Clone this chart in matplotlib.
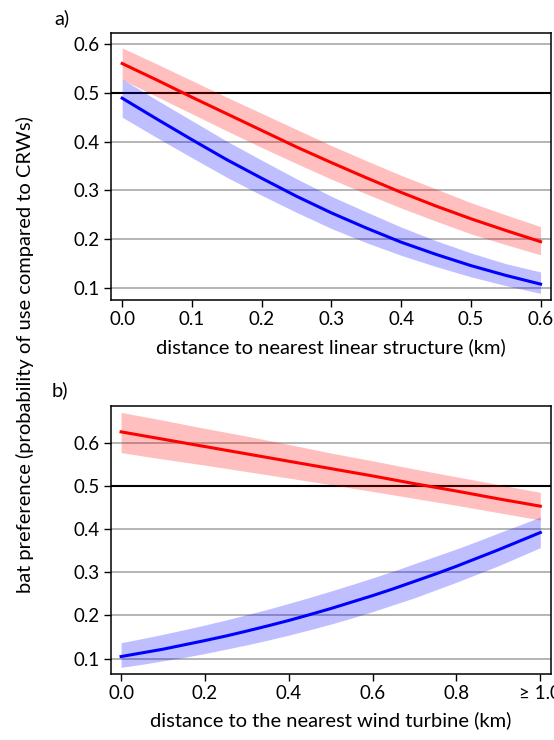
import numpy as np
import matplotlib
matplotlib.use('Agg')
import matplotlib.pyplot as plt

plt.rcParams['font.family'] = ['Lato', 'DejaVu Sans']

# panel a) distance to nearest linear structure (km)
dist_lin = [0.0, 0.05, 0.1, 0.15, 0.2, 0.25, 0.3, 0.35, 0.4, 0.45, 0.5, 0.55, 0.6]
red_a = [0.560, 0.526, 0.491, 0.457, 0.423, 0.389, 0.357, 0.326, 0.296, 0.268, 0.242, 0.218, 0.195]
red_a_lo = [0.527, 0.492, 0.457, 0.422, 0.388, 0.355, 0.323, 0.293, 0.264, 0.237, 0.211, 0.189, 0.168]
red_a_hi = [0.592, 0.559, 0.525, 0.491, 0.458, 0.425, 0.392, 0.361, 0.331, 0.303, 0.275, 0.250, 0.226]
blue_a = [0.489, 0.446, 0.404, 0.363, 0.325, 0.288, 0.254, 0.223, 0.194, 0.169, 0.146, 0.126, 0.108]
blue_a_lo = [0.450, 0.408, 0.367, 0.327, 0.290, 0.255, 0.222, 0.193, 0.167, 0.144, 0.123, 0.105, 0.089]
blue_a_hi = [0.528, 0.485, 0.443, 0.401, 0.362, 0.324, 0.288, 0.256, 0.225, 0.197, 0.172, 0.150, 0.133]

# panel b) distance to the nearest wind turbine (km)
dist_wt = [0.0, 0.05, 0.1, 0.15, 0.2, 0.25, 0.3, 0.35, 0.4, 0.45, 0.5,
	0.55, 0.6, 0.65, 0.7, 0.75, 0.8, 0.85, 0.9, 0.95, 1.0]
red_b = [0.625, 0.6165, 0.608, 0.5995, 0.591, 0.5825, 0.574, 0.5655, 0.557, 0.5485, 0.540,
	0.5315, 0.523, 0.514, 0.505, 0.4965, 0.488, 0.479, 0.470, 0.4615, 0.453]
red_b_lo = [0.577, 0.5695, 0.562, 0.555, 0.548, 0.5405, 0.533, 0.5255, 0.518, 0.5105, 0.503,
	0.495, 0.487, 0.479, 0.471, 0.463, 0.455, 0.4465, 0.438, 0.4295, 0.421]
red_b_hi = [0.670, 0.661, 0.652, 0.6425, 0.633, 0.624, 0.615, 0.6055, 0.596, 0.586, 0.576,
	0.567, 0.558, 0.5485, 0.539, 0.530, 0.521, 0.512, 0.503, 0.494, 0.485]
blue_b = [0.105, 0.1135, 0.122, 0.132, 0.142, 0.1525, 0.164, 0.176, 0.1885, 0.202, 0.216,
	0.231, 0.246, 0.262, 0.279, 0.296, 0.314, 0.333, 0.352, 0.372, 0.392]
blue_b_lo = [0.080, 0.087, 0.095, 0.103, 0.112, 0.122, 0.132, 0.143, 0.1545, 0.167, 0.180,
	0.194, 0.209, 0.225, 0.241, 0.259, 0.277, 0.296, 0.315, 0.336, 0.357]
blue_b_hi = [0.137, 0.1465, 0.1565, 0.167, 0.178, 0.1895, 0.202, 0.2145, 0.228, 0.242, 0.2565,
	0.2715, 0.287, 0.303, 0.320, 0.337, 0.354, 0.372, 0.391, 0.409, 0.428]

yticks = [0.1, 0.2, 0.3, 0.4, 0.5, 0.6]
xticks_a = [0.0, 0.1, 0.2, 0.3, 0.4, 0.5, 0.6]
xticks_b = [0.0, 0.2, 0.4, 0.6, 0.8, 1.0]
xlabels_b = ['0.0', '0.2', '0.4', '0.6', '0.8', '\u2265 1.0']

fs = 13.5   # tick labels
lfs = 14.5  # axis labels

fig = plt.figure(figsize=(5.54, 7.4), dpi=100)
ax1 = fig.add_axes([0.2004, 0.5946, 0.7942, 0.3608])
ax2 = fig.add_axes([0.2004, 0.0896, 0.7942, 0.3622])

panels = [(ax1, dist_lin, [(red_a, red_a_lo, red_a_hi, 'red'), (blue_a, blue_a_lo, blue_a_hi, 'blue')]),
	(ax2, dist_wt, [(red_b, red_b_lo, red_b_hi, 'red'), (blue_b, blue_b_lo, blue_b_hi, 'blue')])]

for ax, x, series in panels:
	for v in yticks:
		if v == 0.5:
			ax.axhline(v, color='black', lw=1.5, zorder=1)
		else:
			ax.axhline(v, color='#a0a0a0', lw=1.1, zorder=1)
	for mid, lo, hi, col in series:
		ax.fill_between(x, lo, hi, color=col, alpha=0.25, lw=0, zorder=2)
		ax.plot(x, mid, color=col, lw=2.2, zorder=3)
	ax.set_yticks(yticks)
	ax.set_yticklabels(['%.1f' % v for v in yticks], fontsize=fs)
	ax.tick_params(direction='out', length=5, width=1, colors='black', pad=3)
	for s in ax.spines.values():
		s.set_linewidth(1.1)

ax1.set_xlim(-0.016, 0.615)
ax1.set_ylim(0.0755, 0.6225)
ax1.set_xticks(xticks_a)
ax1.set_xticklabels(['%.1f' % v for v in xticks_a], fontsize=fs)
ax1.set_xlabel('distance to nearest linear structure (km)', fontsize=lfs, labelpad=7)

ax2.set_xlim(-0.024, 1.0255)
ax2.set_ylim(0.0653, 0.6856)
ax2.set_xticks(xticks_b)
ax2.set_xticklabels(xlabels_b, fontsize=fs)
ax2.set_xlabel('distance to the nearest wind turbine (km)', fontsize=lfs, labelpad=7)

fig.text(0.045, 1 - 355 / 740., 'bat preference (probability of use compared to CRWs)',
	rotation=90, ha='center', va='center', fontsize=lfs)
fig.text(0.098, 1 - 18 / 740., 'a)', ha='left', va='center', fontsize=lfs)
fig.text(0.094, 1 - 390 / 740., 'b)', ha='left', va='center', fontsize=lfs)

plt.savefig('out.png', dpi=100)
plt.close()
